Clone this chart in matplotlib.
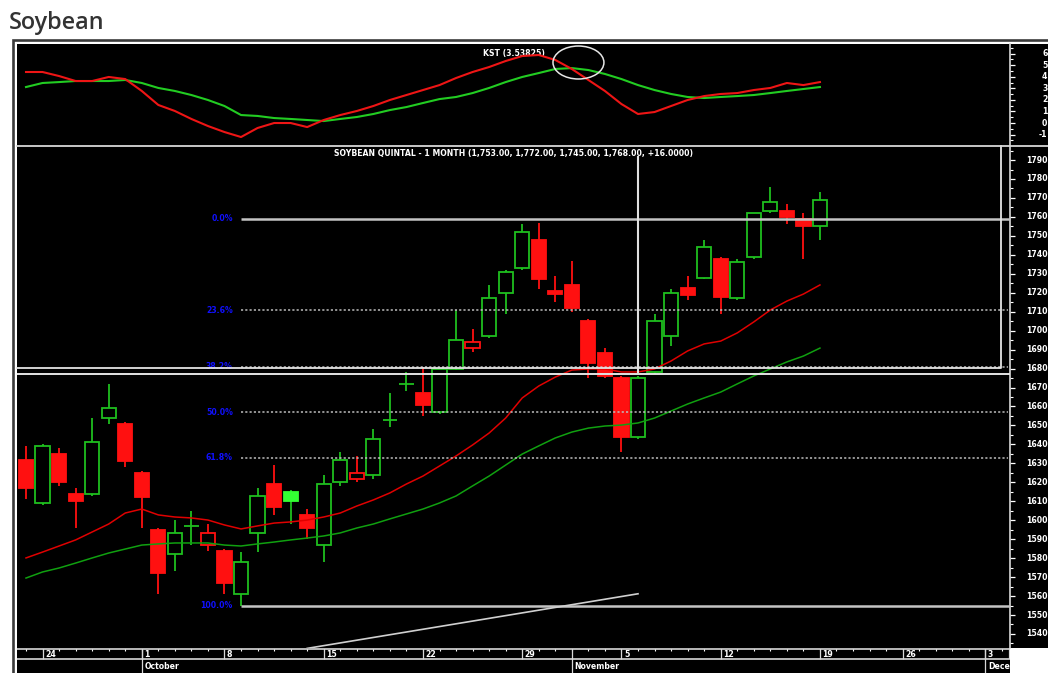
import numpy as np
import matplotlib
matplotlib.use("Agg")
import matplotlib.pyplot as plt
from matplotlib.patches import Rectangle, Ellipse
from matplotlib.lines import Line2D
from matplotlib.transforms import blended_transform_factory

W, H, DPI = 1048, 673, 100

# ---------------- data ----------------
opens = [1632, 1609, 1635, 1614, 1614, 1654, 1651, 1625, 1595, 1582,
         1597, 1587, 1584, 1561, 1593, 1619, 1615, 1603, 1587, 1620,
         1622, 1624, 1653, 1672, 1667, 1657, 1680, 1691, 1697, 1720,
         1733, 1748, 1721, 1724, 1705, 1688, 1675, 1644, 1678, 1697,
         1722.5, 1728, 1738, 1717, 1739, 1763, 1763, 1759, 1755]
highs = [1639, 1640, 1638, 1617, 1654, 1672, 1652, 1626, 1596, 1600,
         1605, 1598, 1585, 1583, 1617, 1629, 1616, 1606, 1624, 1636,
         1634, 1648, 1667, 1678, 1681, 1680, 1711, 1701, 1724, 1732,
         1756, 1757, 1729, 1737, 1706, 1691, 1676, 1676, 1709, 1722,
         1729, 1748, 1739, 1738, 1762, 1776, 1767, 1762, 1773]
lows = [1611, 1608, 1618, 1596, 1613, 1651, 1628, 1596, 1561, 1573,
        1587, 1584, 1561, 1555, 1583, 1603, 1598, 1590, 1578, 1618,
        1620, 1622, 1649, 1668, 1655, 1656, 1679, 1689, 1696, 1709,
        1732, 1722, 1715, 1710, 1675, 1675, 1636, 1643, 1677, 1692,
        1716, 1727.5, 1709, 1716, 1738, 1762, 1756, 1738, 1748]
closes = [1617, 1639, 1620, 1610, 1641, 1659, 1631, 1612, 1572, 1593,
          1597, 1593, 1567, 1578, 1613, 1607, 1610, 1596, 1619, 1632,
          1625, 1643, 1653, 1672, 1661, 1680, 1695, 1694, 1717, 1731,
          1752, 1727, 1719.5, 1712, 1683, 1676, 1644, 1675, 1705, 1720,
          1719, 1744, 1718, 1736, 1762, 1768, 1760, 1755, 1769]

red_ma = [1580.1, 1583.2, 1586.4, 1589.6, 1593.8, 1598.0, 1603.8, 1605.9, 1602.8, 1601.7,
          1601.2, 1600.1, 1597.5, 1595.4, 1597.0, 1598.5, 1599.1, 1600.1, 1601.7, 1603.8,
          1607.5, 1610.7, 1614.4, 1619.1, 1623.3, 1628.6, 1633.9, 1639.7, 1646.0, 1653.9,
          1664.5, 1670.8, 1675.5, 1679.2, 1679.8, 1679.8, 1678.2, 1678.2, 1679.8, 1684.0,
          1689.3, 1693.0, 1694.5, 1698.8, 1704.6, 1710.9, 1715.6, 1719.3, 1724.1]
green_ma = [1569.5, 1572.7, 1574.8, 1577.4, 1580.1, 1582.7, 1584.8, 1586.9, 1587.5, 1588.0,
            1588.0, 1588.0, 1586.9, 1586.4, 1587.5, 1588.5, 1589.6, 1590.6, 1591.7, 1593.3,
            1595.9, 1598.0, 1600.7, 1603.3, 1605.9, 1609.1, 1612.8, 1618.1, 1623.3, 1629.1,
            1634.9, 1639.2, 1643.4, 1646.5, 1648.6, 1649.7, 1650.2, 1651.3, 1653.9, 1657.6,
            1661.3, 1664.5, 1667.6, 1671.9, 1676.1, 1679.8, 1683.5, 1686.6, 1690.8]

kst = [4.41, 4.41, 4.06, 3.63, 3.63, 3.98, 3.80, 2.77, 1.56, 1.04,
       0.35, -0.26, -0.78, -1.21, -0.43, 0.00, 0.00, -0.35, 0.26, 0.69,
       1.04, 1.47, 1.99, 2.42, 2.85, 3.28, 3.89, 4.41, 4.84, 5.36,
       5.79, 5.88, 5.45, 4.67, 3.72, 2.77, 1.64, 0.78, 0.95, 1.47,
       1.99, 2.33, 2.51, 2.59, 2.85, 3.03, 3.46, 3.28, 3.54]
kst_signal = [3.11, 3.46, 3.54, 3.63, 3.63, 3.63, 3.72, 3.46, 3.03, 2.77,
              2.42, 1.99, 1.47, 0.69, 0.61, 0.43, 0.35, 0.26, 0.17, 0.35,
              0.52, 0.78, 1.12, 1.38, 1.73, 2.07, 2.25, 2.59, 3.03, 3.54,
              3.98, 4.32, 4.67, 4.75, 4.58, 4.24, 3.80, 3.28, 2.85, 2.51,
              2.25, 2.16, 2.25, 2.33, 2.42, 2.59, 2.77, 2.94, 3.11]

tick_days = [1, 7, 12, 18, 24, 30, 36, 42, 48, 53, 58]
tick_labels = ["24", "1", "8", "15", "22", "29", "5", "12", "19", "26", "3"]
month_days = [7, 33, 58]
month_labels = ["October", "November", "December"]

price_ticks = [1540, 1550, 1560, 1570, 1580, 1590, 1600, 1610, 1620, 1630, 1640, 1650, 1660,
               1670, 1680, 1690, 1700, 1710, 1720, 1730, 1740, 1750, 1760, 1770, 1780, 1790]
kst_ticks = [-1, 0, 1, 2, 3, 4, 5, 6]

fib_high, fib_low = 1759.0, 1555.0
fib_ratios = [0.0, 0.236, 0.382, 0.5, 0.618, 1.0]
fib_labels = ["0.0%", "23.6%", "38.2%", "50.0%", "61.8%", "100.0%"]
fib_start_day = 13

trend_days = [17, 37]
trend_prices = [1532.4, 1561.2]
box_right_day, box_bottom = 58.95, 1680.3
cross_day, cross_price = 37, 1677.1
kst_circle = (33.4, 5.23)

title_main = "SOYBEAN QUINTAL - 1 MONTH (1,753.00, 1,772.00, 1,745.00, 1,768.00, +16.0000)"
title_kst = "KST (3.53825)"

# ---------------- styling ----------------
GREEN = "#1fbf1f"
GREEN_FILL = "#33ff33"
RED = "#ff1010"
MA_RED = "#e00000"
MA_GREEN = "#10a010"
KST_GREEN = "#22cc22"
KST_RED = "#ee1515"
LINE = "#d8d8d8"
SMALL = dict(family="DejaVu Sans", weight="bold", fontsize=5.6, color="white")

XMIN, XMAX = -0.544, 59.49


def fx(x):
    return x / W


def fy(y):
    return 1 - y / H


fig = plt.figure(figsize=(W / DPI, H / DPI), dpi=DPI, facecolor="white")

# frame + black background
fig.add_artist(Rectangle((fx(12.6), fy(700)), (1100 - 12.6) / W, (700 - 40.4) / H,
                         transform=fig.transFigure, fill=False,
                         edgecolor="#3a3a3a", linewidth=1.9))
fig.add_artist(Rectangle((fx(17), fy(648)), (1048 - 17) / W, (648 - 44) / H,
                         transform=fig.transFigure, facecolor="black",
                         edgecolor="none", zorder=0))

fig.text(fx(9), fy(29), "Soybean", family="Open Sans", weight="semibold",
         fontsize=16.8, color="#333333", va="baseline", ha="left")

ax_kst = fig.add_axes([fx(17), fy(145), (1010 - 17) / W, (145 - 44) / H])
ax_main = fig.add_axes([fx(17), fy(648), (1010 - 17) / W, (648 - 146) / H])
ax_date = fig.add_axes([fx(17), 0, (1010 - 17) / W, (673 - 648) / H])

for ax in (ax_kst, ax_main, ax_date):
    ax.set_facecolor("black")
    ax.set_xlim(XMIN, XMAX)
    for s in ax.spines.values():
        s.set_visible(False)
    ax.set_xticks([])

for ax, ticks, minor in ((ax_main, price_ticks, 5), (ax_kst, kst_ticks, 0.5)):
    ax.spines["right"].set_visible(True)
    ax.spines["right"].set_color(LINE)
    ax.spines["right"].set_linewidth(1.2)
    ax.yaxis.tick_right()
    ax.set_yticks(ticks)
    ax.yaxis.set_minor_locator(matplotlib.ticker.MultipleLocator(minor))
    ax.tick_params(axis="y", which="major", length=3.6, width=0.9, color="white",
                   labelright=False, labelleft=False)
    ax.tick_params(axis="y", which="minor", length=1.8, width=0.8, color="white")

ax_main.set_ylim(1532.6, 1797.4)
ax_kst.set_ylim(-1.90, 6.83)
ax_date.set_ylim(673, 648)
ax_date.set_yticks([])

# right-hand labels
tr_main = blended_transform_factory(fig.transFigure, ax_main.transData)
for p in price_ticks:
    ax_main.text(fx(1026), p, str(p), transform=tr_main, ha="left", va="center",
                 clip_on=False, **SMALL)
tr_kst = blended_transform_factory(fig.transFigure, ax_kst.transData)
for v in kst_ticks:
    ax_kst.text(fx(1047.5), v, str(v), transform=tr_kst, ha="right", va="center",
                clip_on=False, **SMALL)

# ---------------- KST panel ----------------
days = np.arange(len(opens))
ax_kst.plot(days, kst_signal, color=KST_GREEN, lw=1.5, zorder=3)
ax_kst.plot(days, kst, color=KST_RED, lw=1.5, zorder=4)
ax_kst.add_patch(Ellipse(kst_circle, width=3.08, height=2.85, fill=False,
                         edgecolor="#e6e6e6", lw=1.1, zorder=5))
ax_kst.text((XMIN + XMAX) / 2, 6.05, title_kst, ha="center", va="center", **SMALL)

# ---------------- main panel ----------------
o = np.array(opens, float)
h = np.array(highs, float)
l = np.array(lows, float)
c = np.array(closes, float)
prev = np.concatenate([[o[0]], c[:-1]])
up = c >= prev
filled = c < o
edge = [GREEN if u else RED for u in up]
face = [(GREEN_FILL if u else RED) if f else "black" for u, f in zip(up, filled)]
edge = [GREEN_FILL if (u and f) else e for u, f, e in zip(up, filled, edge)]

ax_main.vlines(days, l, h, colors=[GREEN if u else RED for u in up], lw=1.3, zorder=2)
ax_main.bar(days, np.abs(c - o), bottom=np.minimum(o, c), width=0.86,
            color=face, edgecolor=edge, linewidth=1.3, zorder=3)

ax_main.plot(days, red_ma, color=MA_RED, lw=1.1, zorder=4)
ax_main.plot(days, green_ma, color=MA_GREEN, lw=1.1, zorder=4)

# fibonacci retracement
for r, lab in zip(fib_ratios, fib_labels):
    lvl = fib_high - r * (fib_high - fib_low)
    if r in (0.0, 1.0):
        ax_main.hlines(lvl, fib_start_day, XMAX, colors="#c4c4c4", lw=1.8, zorder=5)
    else:
        ax_main.hlines(lvl, fib_start_day, XMAX - 0.15, colors="#bdbdbd", lw=1.1,
                       linestyles=(0, (1.4, 1.4)), zorder=5)
    ax_main.text(fib_start_day - 0.5, lvl, lab, ha="right", va="center",
                 family="DejaVu Sans", weight="bold", fontsize=5.6, color="#1010ff")

# drawing objects
ax_main.plot(trend_days, trend_prices, color="#d0d0d0", lw=1.2, zorder=5)
ax_main.plot([XMIN, box_right_day, box_right_day], [box_bottom, box_bottom, 1797.4],
             color="#e4e4e4", lw=1.3, zorder=6, clip_on=False)
ax_main.hlines(cross_price, XMIN, XMAX, colors="#e4e4e4", lw=1.4, zorder=6)
ax_main.vlines(cross_day, cross_price, 1792.3, colors="#e0e0e0", lw=1.5, zorder=6)

ax_main.text((XMIN + XMAX) / 2, 1793.6, title_main, ha="center", va="center", **SMALL)

# separator between panels
fig.add_artist(Line2D([fx(17), fx(1048)], [fy(145.5), fy(145.5)], color=LINE, lw=1.3,
                      transform=fig.transFigure))

# ---------------- date strip ----------------
ax_date.hlines([648.8, 659.2], XMIN, XMAX, colors=LINE, lw=1.2)
ax_date.vlines(np.arange(0, 60), 648.8, 651.3, colors="white", lw=0.8)
ax_date.vlines(tick_days, 648.8, 659.2, colors=LINE, lw=0.9)
ax_date.vlines(month_days, 648.8, 673, colors=LINE, lw=0.9)
ax_date.vlines(XMAX - 0.02, 648, 659.2, colors=LINE, lw=1.6)
for d, lab in zip(tick_days, tick_labels):
    ax_date.text(d + 0.15, 654.3, lab, ha="left", va="center", clip_on=True, **SMALL)
for d, lab in zip(month_days, month_labels):
    ax_date.text(d + 0.15, 666.3, lab, ha="left", va="center", clip_on=True, **SMALL)

fig.savefig("out.png", dpi=DPI, facecolor="white")
